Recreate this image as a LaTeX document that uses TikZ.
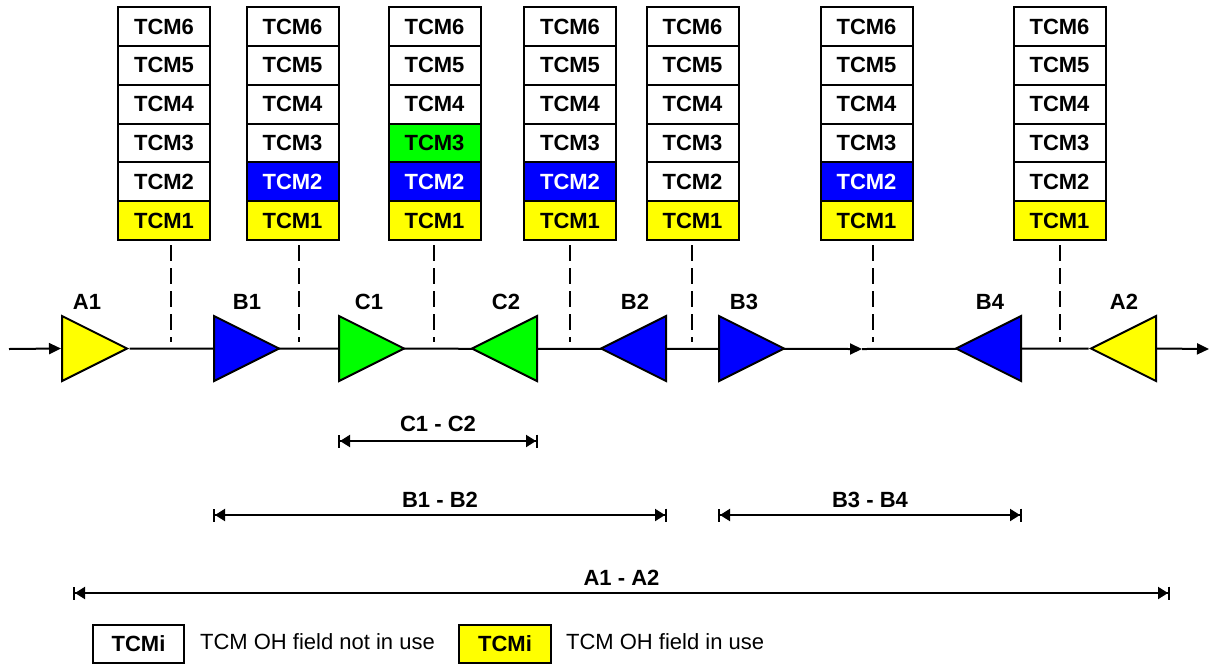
\documentclass[tikz,border=0pt]{standalone}
\usepackage{fontspec}
\setmainfont{Liberation Sans}
\usetikzlibrary{arrows.meta,positioning,shapes.geometric,backgrounds}
\definecolor{tcmyellow}{HTML}{FFFF00}
\definecolor{tcmblue}{HTML}{0000FF}
\definecolor{tcmgreen}{HTML}{00FF00}

\tikzset{
  field/.style={draw, line width=1pt, minimum width=46pt, minimum height=19.4pt,
    inner sep=0pt, font=\fontsize{11}{13}\selectfont\bfseries},
  unused/.style={field, fill=white},
  lvl1/.style={field, fill=tcmyellow},
  lvl2/.style={field, fill=tcmblue, text=white},
  lvl3/.style={field, fill=tcmgreen},
  amp/.style={isosceles triangle, isosceles triangle stretches, draw, line width=1pt,
    minimum width=32.5pt, minimum height=32.5pt, inner sep=0pt, anchor=west},
  ampleft/.style={amp, shape border rotate=180, anchor=east},
  tag/.style={font=\fontsize{11}{13}\selectfont\bfseries},
  mainline/.style={line width=1pt},
  flow/.style={mainline, -{Triangle[length=6pt,width=5.5pt]}},
  tap/.style={line width=1pt, dash pattern=on 8pt off 3.5pt},
  extent/.style={line width=1pt,
    {Bar[width=6.5pt]Triangle[length=5pt,width=6pt]}-{Triangle[length=5pt,width=6pt]Bar[width=6.5pt]}},
}

\begin{document}
\begin{tikzpicture}[x=0.5pt, y=-0.5pt]
\useasboundingbox (0,0) rectangle (1215,665);

% TCM stacks (centre x / levels in use)
\foreach \xc/\used [count=\c] in {164/1, 292.5/2, 434.5/3, 570/2, 692.5/1, 866.5/2, 1059.5/1} {
  \foreach \r in {1,...,6} {
    \ifnum\r>\used \def\sty{unused}\else \def\sty{lvl\r}\fi
    \node[\sty] (s\c-\r) at ({\xc}, {240-38.83*(\r-0.5)}) {TCM\r};
  }
}

% Tap points below the stacks
\foreach \xt [count=\i] in {171, 299, 434, 570, 692, 873, 1060} {
  \coordinate (t\i) at (\xt, 245);
  \coordinate (b\i) at (\xt, 342);
  \draw[tap] (t\i) -- (b\i);
}

% Amplifiers on the line (placed by their base)
\node[amp, fill=tcmyellow] (A1) at (61, 348.5) {};
\node[amp, fill=tcmblue] (B1) at (213, 348.5) {};
\node[amp, fill=tcmgreen] (C1) at (338, 348.5) {};
\node[ampleft, fill=tcmgreen] (C2) at (538, 348.5) {};
\node[ampleft, fill=tcmblue] (B2) at (667, 348.5) {};
\node[amp, fill=tcmblue] (B3) at (718, 348.5) {};
\node[ampleft, fill=tcmblue] (B4) at (1022, 348.5) {};
\node[ampleft, fill=tcmyellow] (A2) at (1157, 348.5) {};

% Amplifier labels
\node[tag] (lA1) at (87, 302) {A1};
\node[tag] (lB1) at (247, 302) {B1};
\node[tag] (lC1) at (369, 302) {C1};
\node[tag] (lC2) at (506, 302) {C2};
\node[tag] (lB2) at (635, 302) {B2};
\node[tag] (lB3) at (744, 302) {B3};
\node[tag] (lB4) at (990, 302) {B4};
\node[tag] (lA2) at (1124, 302) {A2};

% Signal line
\begin{scope}[on background layer]
\coordinate (in) at (9, 349);
\coordinate (mid) at (862, 349);
\coordinate (out) at (1209, 349);
\draw[flow] (in) -- (A1.west);
\draw[flow] (A1) -- (mid);
\draw[mainline] (mid) -- (A2);
\draw[flow] (A2.east) -- (out);
\end{scope}

% Monitored sections
\coordinate (yC) at (0, 441);
\coordinate (yB) at (0, 515);
\coordinate (yA) at (0, 593);
\draw[extent] (C1.west |- yC) -- (C2.east |- yC) node[midway, above, tag, yshift=1pt] {C1 - C2};
\draw[extent] (B1.west |- yB) -- (B2.east |- yB) node[midway, above, tag] {B1 - B2};
\draw[extent] (B3.west |- yB) -- (B4.east |- yB) node[midway, above, tag] {B3 - B4};
\coordinate (aL) at (73, 593);
\coordinate (aR) at (1170, 593);
\draw[extent] (aL) -- (aR) node[midway, above, tag] {A1 - A2};

% Legend
\node[unused, minimum width=45.5pt, minimum height=19pt] (key1) at (138.5, 644) {TCMi};
\node[anchor=west, font=\fontsize{11}{13}\selectfont] (txt1) at (193, 642) {TCM OH field not in use};
\node[lvl1, minimum width=46pt, minimum height=19pt] (key2) at (505, 643.5) {TCMi};
\node[anchor=west, font=\fontsize{11}{13}\selectfont] (txt2) at (559, 642) {TCM OH field in use};

\end{tikzpicture}
\end{document}
